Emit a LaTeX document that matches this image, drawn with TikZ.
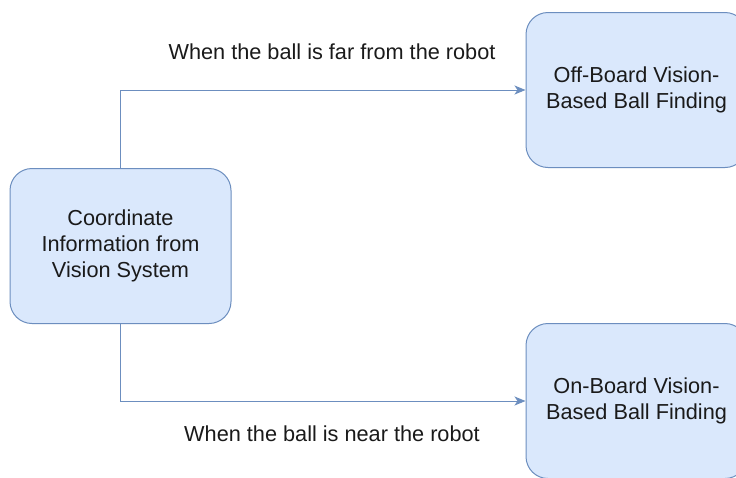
\documentclass[tikz,border=0pt]{standalone}
\usepackage{fontspec}
\setmainfont{Liberation Sans}
\usetikzlibrary{arrows.meta}
\definecolor{boxfill}{HTML}{DAE8FC}
\definecolor{boxline}{HTML}{6C8EBF}
\definecolor{ink}{HTML}{1A1A1A}
\begin{document}
\begin{tikzpicture}[x=1pt,y=-1pt,
  stage/.style={draw=boxline, fill=boxfill, line width=1pt, rounded corners=22pt,
    minimum width=221pt, minimum height=155pt, align=center, text=ink,
    font=\fontsize{21.7}{26}\selectfont, inner sep=0pt},
  tag/.style={text=ink, font=\fontsize{21.7}{26}\selectfont, inner sep=0pt},
  flow/.style={draw=boxline, line width=1pt,
    -{Stealth[length=11pt,width=9pt,inset=3pt]}}]
  \useasboundingbox (0,0) rectangle (736,477);
  \clip (0,0) rectangle (736,477);
  \fill[white] (0,0) rectangle (736,477);

  % source and the two ball-finding modes
  \node[stage] (src) at (120.5,246) {Coordinate\\Information from\\Vision System};
  \node[stage] (off) at (636.5,90) {Off-Board Vision-\\Based Ball Finding};
  \node[stage] (on) at (636.5,401) {On-Board Vision-\\Based Ball Finding};

  % condition labels
  \node[tag] (far) at (332,52) {When the ball is far from the robot};
  \node[tag] (near) at (332,434) {When the ball is near the robot};

  % routing
  \draw[flow] (src.north) |- (off.west);
  \draw[flow] (src.south) |- (on.west);
\end{tikzpicture}
\end{document}
